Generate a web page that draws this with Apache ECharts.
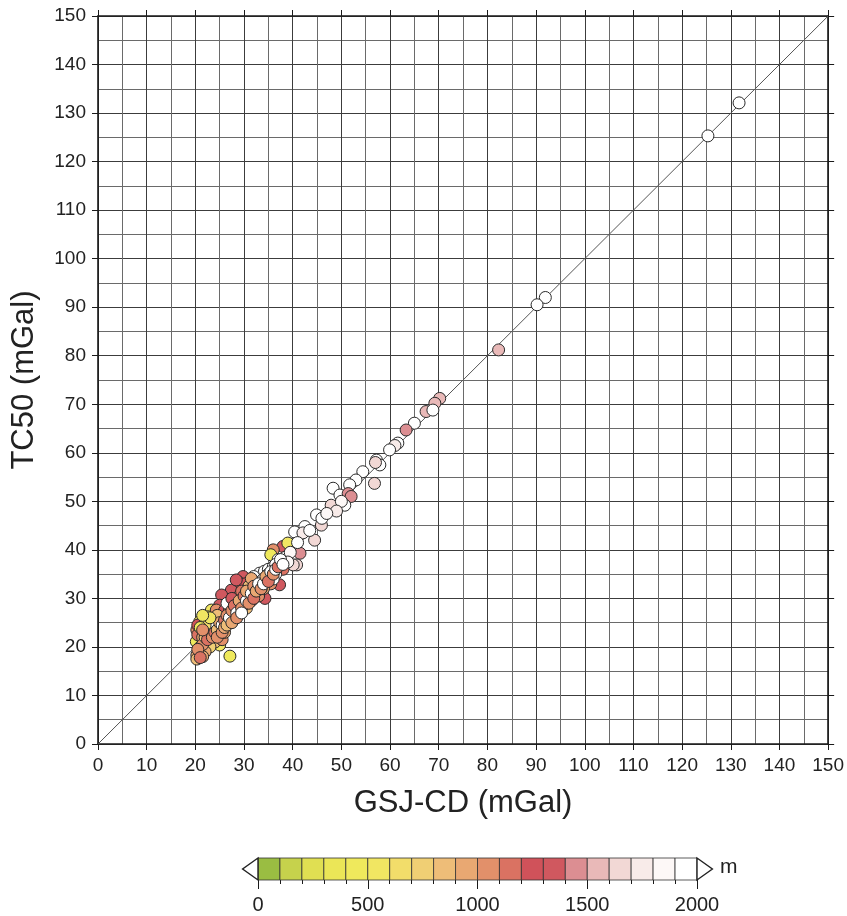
<!DOCTYPE html>
<html>
<head>
<meta charset="utf-8">
<script src="https://cdn.jsdelivr.net/npm/echarts@6/dist/echarts.min.js"></script>
<style>html,body{margin:0;padding:0;background:#fff}#c{width:847px;height:916px}</style>
</head>
<body>
<div id="c"></div>
<script>
// ---- data ----
const gsj = [131.7,125.3,91.9,90.2,82.3,70.2,69.2,67.4,68.8,65.0,63.3,61.6,61.0,59.9,57.2,57.9,57.0,56.8,54.4,53.0,51.7,48.3,49.7,51.4,52.0,47.9,50.7,50.0,49.0,44.9,45.9,42.5,40.4,44.5,42.1,43.5,46.0,47.0,
  38.0,39.0,36.0,35.5,41.5,40.8,40.1,37.3,37.0,38.5,39.5,41.0,38.0,36.5,39.0,37.5,
  34.3,33.2,34.2,31.5,29.8,28.8,27.4,25.4,25.0,30.2,32.0,35.0,35.5,36.0,33.0,32.0,31.0,30.0,29.0,33.5,34.5,35.5,36.0,31.0,30.0,29.0,28.0,32.5,33.0,31.5,34.0,30.5,29.0,28.0,27.0,26.0,27.0,26.0,28.0,29.0,30.0,31.0,34.0,35.0,36.5,
  20.2,20.3,20.3,20.3,20.9,23.3,22.6,24.3,25.0,27.1,20.5,20.5,21.0,21.0,21.5,22.0,22.0,22.5,23.0,23.0,23.5,24.0,24.0,24.5,25.0,25.0,25.5,26.0,26.5,27.0,27.5,28.0,28.5,24.0,23.0,22.0,21.5,25.5,26.0,22.5,28.4,31.5,26.5,29.5,32.5,33.5,27.5,24.5,
  21.5,22.0,22.5,23.0,23.5,23.5,24.0,24.5,24.5,25.0,25.5,25.5,26.0,26.0,26.5,26.5,27.0,27.5,27.5,28.0,28.5,28.5,29.0,29.5,29.5,30.0,30.5,30.5,31.0,31.5,32.0,32.0,32.5,33.0,33.5,34.0,34.5,35.0,35.5,36.0,36.5,37.0,37.5,38.0,22.0,23.0,21.0,20.5,21.0,21.5,21.5];
const tc50 = [132.1,125.3,92.0,90.5,81.2,71.2,70.2,68.5,68.8,66.1,64.7,62.0,61.5,60.6,58.5,57.5,58.0,53.7,56.1,54.4,53.4,52.7,51.3,51.6,51.0,49.2,49.2,50.0,48.0,47.2,45.1,44.8,43.7,42.0,43.5,44.0,46.5,47.5,
  40.7,41.4,40.0,39.0,39.3,36.9,36.9,32.8,38.0,38.5,39.5,41.5,36.0,35.0,37.5,37.0,
  30.0,35.2,35.6,33.8,34.5,33.4,31.7,30.7,28.6,33.0,34.5,36.0,34.5,36.5,32.0,31.0,30.0,29.0,28.0,33.5,33.0,33.0,34.0,32.5,31.0,30.5,29.5,32.5,30.5,29.5,32.0,28.0,27.0,26.5,25.5,24.5,27.0,26.0,28.0,29.0,30.0,31.0,34.0,35.0,37.0,
  21.1,18.3,17.5,23.5,25.2,27.6,26.2,27.6,20.4,18.1,22.5,24.5,20.0,19.0,22.0,23.0,21.0,24.0,22.0,25.0,23.0,24.0,22.5,25.5,24.0,22.5,26.0,27.5,25.0,28.0,26.5,27.0,28.5,21.0,20.0,19.0,18.0,21.5,23.0,25.5,33.8,34.1,29.0,31.5,31.5,32.0,30.0,26.5,
  20.5,22.0,21.5,23.5,22.0,24.5,23.0,23.5,22.0,25.0,24.5,23.0,25.5,24.0,26.5,24.5,26.0,27.5,25.0,28.5,27.0,26.0,29.5,28.0,27.0,30.5,29.5,31.5,29.0,31.0,32.5,30.0,31.5,33.0,32.0,33.0,34.5,33.5,35.5,35.0,36.0,36.5,38.0,37.0,24.5,26.0,24.0,19.5,17.8,23.5,26.5];
const elev = [1950,1950,1950,1950,1550,1500,1500,1500,1900,1900,1450,1900,1700,1900,1900,1900,1600,1600,1900,1900,1900,1900,1900,1400,1450,1600,1900,1800,1700,1900,1600,1900,1900,1600,1700,1900,1900,1800,
  1350,500,1000,450,1400,1600,1600,1350,1900,1900,1800,1900,1100,1900,1800,1000,
  1350,1900,1900,1000,1300,1300,1350,1300,1300,1200,1900,1900,1700,1900,1100,1000,900,1100,1000,1900,1200,1000,1900,800,700,1000,900,1900,1000,1200,900,800,1900,1000,1900,1000,900,800,1900,1200,1900,1000,1800,1900,1900,
  400,900,800,1000,500,500,450,1000,500,450,1100,1200,850,1000,900,1900,1000,900,1100,1900,1000,1900,900,1000,1900,800,1000,1200,1900,1000,1100,1900,1000,850,700,950,900,1000,900,700,1300,950,1900,1100,1000,1900,1300,800,
  1000,800,1100,900,1000,1900,1100,800,1000,900,1900,1000,1100,900,1000,800,1900,1000,900,1100,1900,1000,900,1000,1900,1100,1900,900,1000,1900,1000,1100,900,1900,1000,1900,900,1100,1900,1000,1900,1100,1900,1900,600,500,450,1000,1100,1000,500];
const diagLine = [[0,0],[150,150]];
const axisTicks = {min:0, max:150, interval:10};
const cbarTicks = {min:0, max:2000, interval:500, step:100};
const cbarColors = ['#9abd42','#c6d24c','#e0df52','#ebe657','#efe95c','#f1e662','#f2dd6a','#f0cf74','#eebd78','#e9a872',
                    '#e2906a','#da7262','#d0525a','#d0585f','#dc8e92','#e9b9b8','#f2d8d5','#f8ebe9','#fdf8f7','#ffffff'];
const cbarStarts = cbarColors.map((c,i)=>i*cbarTicks.step);
const cbarUnit = 'm';

// ---- chart ----
const FONT = 'Liberation Sans, Arial, Helvetica, sans-serif';
const points = gsj.map((x,i)=>[x, tc50[i], elev[i]]);
const pieces = cbarColors.map((c,i)=>({gte:i*cbarTicks.step, lt:(i+1)*cbarTicks.step, color:c}));
pieces[pieces.length-1].lte = 99999; delete pieces[pieces.length-1].lt;

const lineCol = '#1a1a1a';
function mainAxis(pos, labels, split) {
  return {
    type:'value', gridIndex:0, position:pos,
    min:axisTicks.min, max:axisTicks.max, interval:axisTicks.interval,
    axisLine:{show:true, onZero:false, lineStyle:{color:lineCol, width:1.6}},
    axisTick:{show:true, length:6, lineStyle:{color:lineCol, width:1}},
    axisLabel:{show:labels, fontSize:19, color:'#222', fontFamily:FONT, margin:12},
    splitLine:{show:split, lineStyle:{color:'#3c3c3c', width:1}},
    minorTick:{show:false, splitNumber:2},
    minorSplitLine:{show:split, lineStyle:{color:'#6a6a6a', width:1}}
  };
}
const xMain = mainAxis('bottom', true, true);
xMain.name = 'GSJ-CD (mGal)'; xMain.nameLocation='middle'; xMain.nameGap=44;
xMain.nameTextStyle = {fontSize:31, color:'#222', fontFamily:FONT};
const yMain = mainAxis('left', true, true);
yMain.name = 'TC50 (mGal)'; yMain.nameLocation='middle'; yMain.nameGap=58;
yMain.nameTextStyle = {fontSize:31, color:'#222', fontFamily:FONT};

const chart = echarts.init(document.getElementById('c'), null, {renderer:'canvas'});
chart.setOption({
  animation:false,
  backgroundColor:'#fff',
  grid:[
    {left:98, right:18, top:16, bottom:172},
    {left:258, width:439, top:858, height:22}
  ],
  xAxis:[
    xMain,
    mainAxis('top', false, false),
    {type:'value', gridIndex:1, min:cbarTicks.min, max:cbarTicks.max, interval:cbarTicks.interval,
     axisLine:{show:false}, axisTick:{show:true, length:9, lineStyle:{color:lineCol, width:1}},
     minorTick:{show:true, splitNumber:5, length:4, lineStyle:{color:lineCol, width:1}},
     axisLabel:{fontSize:20, color:'#222', fontFamily:FONT, margin:15, formatter:v=>String(v)},
     splitLine:{show:false}}
  ],
  yAxis:[
    yMain,
    mainAxis('right', false, false),
    {type:'value', gridIndex:1, min:0, max:1, show:false}
  ],
  visualMap:{type:'piecewise', show:false, dimension:2, seriesIndex:1, pieces:pieces},
  graphic:[{type:'text', left:720, top:857, style:{text:cbarUnit, fontSize:21, fill:'#222', fontFamily:FONT}}],
  series:[
    {type:'line', xAxisIndex:0, yAxisIndex:0, data:diagLine, symbol:'none', silent:true,
     lineStyle:{color:'#555', width:1}, z:3},
    {type:'scatter', xAxisIndex:0, yAxisIndex:0, data:points, symbolSize:12, z:4,
     itemStyle:{borderColor:'#2a2a2a', borderWidth:1, opacity:1}},
    {type:'custom', xAxisIndex:2, yAxisIndex:2, data:cbarStarts.map((s,i)=>[s, i]),
     renderItem:function(params, api){
       const s = api.value(0), idx = api.value(1);
       const p0 = api.coord([s,1]), p1 = api.coord([s+cbarTicks.step,0]);
       return {type:'rect', shape:{x:p0[0], y:p0[1], width:p1[0]-p0[0], height:p1[1]-p0[1]},
               style:{fill:cbarColors[idx], stroke:'#333', lineWidth:0.8}};
     }},
    {type:'custom', xAxisIndex:2, yAxisIndex:2, data:[[cbarTicks.min,-1],[cbarTicks.max,1]],
     renderItem:function(params, api){
       const v = api.value(0), dir = api.value(1);
       const top = api.coord([v,1]), bot = api.coord([v,0]);
       const mid = (top[1]+bot[1])/2, h = bot[1]-top[1];
       return {type:'polygon', shape:{points:[[top[0],top[1]],[top[0]+dir*h*0.7,mid],[bot[0],bot[1]]]},
               style:{fill:'#fff', stroke:'#222', lineWidth:1.4}};
     }}
  ]
});
</script>
</body>
</html>
